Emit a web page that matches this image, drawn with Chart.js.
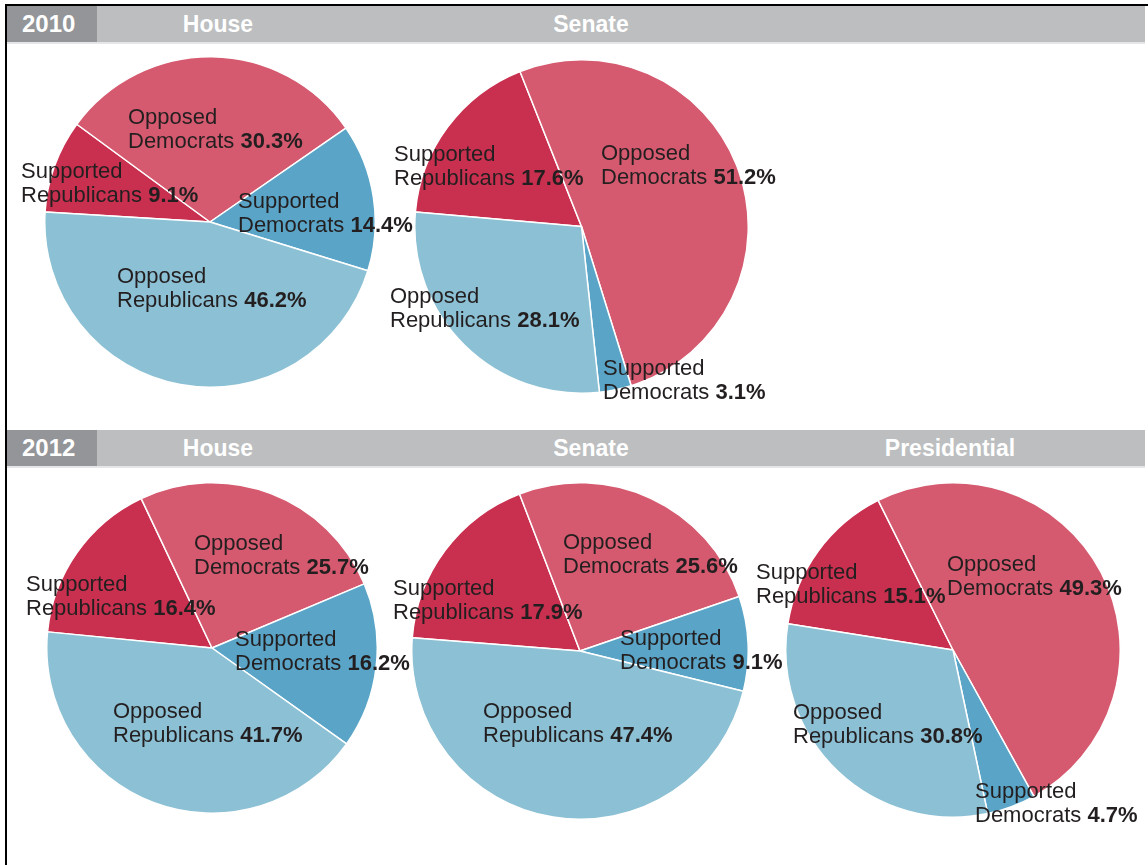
<!DOCTYPE html>
<html>
<head>
<meta charset="utf-8">
<script src="https://cdn.jsdelivr.net/npm/chart.js@4"></script>
<style>
    body { margin: 0; background: #fff; width: 1148px; height: 865px; position: relative; overflow: hidden;
           font-family: "Liberation Sans", Arial, sans-serif; }
    .frame { position: absolute; left: 5px; top: 4px; width: 1200px; height: 900px;
             border-top: 2px solid #000; border-left: 2px solid #000; }
    .bar { position: absolute; left: 7px; width: 1138px; height: 36px; background: #bcbec0;
           border-bottom: 2px solid #e4e6e8; }
    .bar .year { position: absolute; left: 0; top: 0; width: 90px; height: 36px; background: #939598; }
    .bar span { position: absolute; top: 0; line-height: 36px; color: #fff; font-weight: bold; font-size: 23px; }
    .bar .year span { left: 15px; font-size: 24px; }
    .bar .title { width: 240px; margin-left: -120px; text-align: center; }
    canvas { position: absolute; }
    .lbl { position: absolute; font-size: 22px; line-height: 24px; color: #231f20; white-space: nowrap; }
    .lbl b { font-weight: bold; }
</style>
</head>
<body>
<div class="frame"></div>
<div class="bar" style="top:6px">
    <div class="year"><span>2010</span></div>
    <span class="title" style="left:211px">House</span>
    <span class="title" style="left:584px">Senate</span>
</div>
<div class="bar" style="top:430px">
    <div class="year"><span>2012</span></div>
    <span class="title" style="left:211px">House</span>
    <span class="title" style="left:584px">Senate</span>
    <span class="title" style="left:943px">Presidential</span>
</div>
<div id="charts"></div>

<script>
"use strict";

const categories = ['Supported Republicans', 'Opposed Democrats', 'Supported Democrats', 'Opposed Republicans'];
const house2010 = [9.1, 30.3, 14.4, 46.2];
const senate2010 = [17.6, 51.2, 3.1, 28.1];
const house2012 = [16.4, 25.7, 16.2, 41.7];
const senate2012 = [17.9, 25.6, 9.1, 47.4];
const presidential2012 = [15.1, 49.3, 4.7, 30.8];

const sliceColors = ['#c9304f', '#d55a6f', '#5aa5c7', '#8cc0d4'];

// where each pie sits, and where its labels go (offset from the pie centre)
const pies = [
    { values: house2010, cx: 210, cy: 222, r: 165, rotation: -86.5,
      labels: [[-189, -63], [-82, -117.5], [28, -33], [-93, 42]] },
    { values: senate2010, cx: 581, cy: 226.5, r: 166.5, rotation: -85,
      labels: [[-187, -84.5], [20, -85.5], [22, 129], [-191, 57]] },
    { values: house2012, cx: 212, cy: 647.5, r: 165, rotation: -84.4,
      labels: [[-186, -75.5], [-18, -116.5], [23, -21], [-99, 51]] },
    { values: senate2012, cx: 580, cy: 651, r: 168, rotation: -85.5,
      labels: [[-187, -74.6], [-17, -121], [40, -24.6], [-97, 47.7]] },
    { values: presidential2012, cx: 953, cy: 650, r: 167, rotation: -81,
      labels: [[-197, -89.6], [-6, -98], [22, 128.7], [-160, 49.7]] }
];

function drawPie(pie) {
    const holder = document.getElementById('charts');
    const size = Math.round(pie.r * 2 + 1.5);
    const canvas = document.createElement('canvas');
    canvas.width = size;
    canvas.height = size;
    canvas.style.width = size + 'px';
    canvas.style.height = size + 'px';
    canvas.style.left = (pie.cx - size / 2) + 'px';
    canvas.style.top = (pie.cy - size / 2) + 'px';
    holder.appendChild(canvas);

    new Chart(canvas.getContext('2d'), {
        type: 'pie',
        data: {
            labels: categories,
            datasets: [{
                data: pie.values,
                backgroundColor: sliceColors,
                borderColor: '#ffffff',
                borderWidth: 1.5,
                hoverOffset: 0
            }]
        },
        options: {
            responsive: false,
            animation: false,
            events: [],
            rotation: pie.rotation,
            layout: { padding: 0 },
            plugins: {
                legend: { display: false },
                tooltip: { enabled: false }
            }
        }
    });

    categories.forEach((name, i) => {
        const words = name.split(' ');
        const div = document.createElement('div');
        div.className = 'lbl';
        div.style.left = (pie.cx + pie.labels[i][0]) + 'px';
        div.style.top = (pie.cy + pie.labels[i][1]) + 'px';
        div.innerHTML = words[0] + '<br>' + words[1] + ' <b>' + pie.values[i].toFixed(1) + '%</b>';
        holder.appendChild(div);
    });
}

window.addEventListener('load', () => {
    pies.forEach(drawPie);
});
</script>
</body>
</html>
